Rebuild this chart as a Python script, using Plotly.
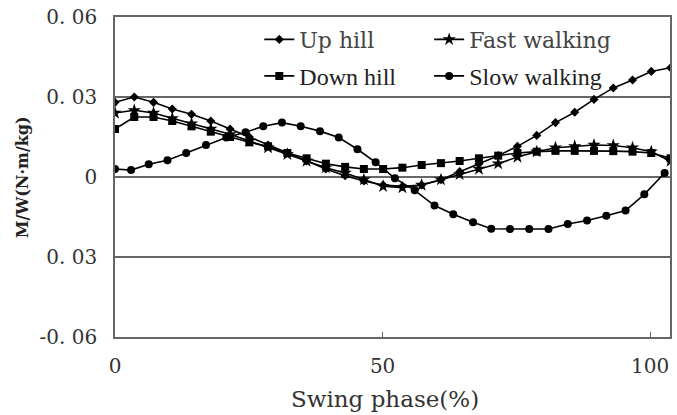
import plotly.graph_objects as go

# Swing phase (%) positions for each series
x_up = [0, 3.6, 7.2, 10.7, 14.3, 17.9, 21.5, 25.1, 28.6, 32.2, 35.8, 39.4, 43.0, 46.5, 50.1,
        53.7, 57.3, 60.9, 64.4, 68.0, 71.6, 75.2, 78.8, 82.3, 85.9, 89.5, 93.1, 96.7, 100.2, 103.8]
x_fast = x_up
x_down = x_up
x_slow = [0, 3, 6.3, 9.8, 13.3, 17, 20.8, 24.4, 27.7, 31.2, 34.7, 38.3, 41.8, 45.3, 48.7,
          52.3, 56, 59.7, 63.2, 66.9, 70.3, 73.8, 77.4, 81, 84.6, 88.2, 91.8, 95.4, 98.9, 102.7]

up_hill = [0.028, 0.030, 0.028, 0.0255, 0.0235, 0.021, 0.018, 0.015, 0.012, 0.009, 0.006, 0.003,
           0.0005, -0.0015, -0.003, -0.0035, -0.003, -0.001, 0.002, 0.005, 0.008, 0.0115, 0.0156,
           0.0204, 0.0243, 0.0291, 0.0334, 0.0364, 0.0396, 0.041]
fast_walking = [0.024, 0.025, 0.024, 0.022, 0.020, 0.018, 0.016, 0.0135, 0.011, 0.0085, 0.006,
                0.0035, 0.0015, -0.001, -0.0035, -0.004, -0.003, -0.001, 0.001, 0.003, 0.005,
                0.0075, 0.0095, 0.011, 0.0115, 0.012, 0.0118, 0.011, 0.0095, 0.006]
down_hill = [0.018, 0.0225, 0.0225, 0.021, 0.019, 0.017, 0.015, 0.013, 0.0115, 0.009, 0.007, 0.005,
             0.0038, 0.003, 0.003, 0.0035, 0.0045, 0.0052, 0.006, 0.007, 0.008, 0.009, 0.0095,
             0.0098, 0.0098, 0.0098, 0.0097, 0.0095, 0.009, 0.007]
slow_walking = [0.003, 0.0026, 0.0048, 0.0063, 0.009, 0.012, 0.0148, 0.0168, 0.019, 0.0204, 0.019,
                0.0172, 0.0148, 0.0104, 0.0055, -0.0005, -0.005, -0.0107, -0.014, -0.017, -0.0194,
                -0.0195, -0.0195, -0.0195, -0.0176, -0.0163, -0.0145, -0.0126, -0.0065, 0.0015]

y_tickvals = [0.06, 0.03, 0, -0.03, -0.06]
y_ticktext = ["0. 06", "0. 03", "0", "0. 03", "-0. 06"]
x_tickvals = [0, 50, 100]
x_ticktext = ["0", "50", "100"]

fig = go.Figure()
line = dict(color="black", width=1.6)
fig.add_trace(go.Scatter(x=x_up, y=up_hill, name="Up hill", mode="lines+markers", line=line,
                         marker=dict(symbol="diamond", size=7, color="black"), legend="legend"))
fig.add_trace(go.Scatter(x=x_fast, y=fast_walking, name="Fast walking", mode="lines+markers", line=line,
                         marker=dict(symbol="star", size=10, color="black"), legend="legend2"))
fig.add_trace(go.Scatter(x=x_down, y=down_hill, name="Down hill", mode="lines+markers", line=line,
                         marker=dict(symbol="square", size=8, color="black"), legend="legend3"))
fig.add_trace(go.Scatter(x=x_slow, y=slow_walking, name="Slow walking", mode="lines+markers", line=line,
                         marker=dict(symbol="circle", size=8, color="black"), legend="legend4"))

row1_font = dict(family="DejaVu Serif", size=22, color="#444")
row2_font = dict(family="Liberation Serif", size=24, color="#222")
col1_x, col2_x = 0.26, 0.566
row1_y, row2_y = 0.995, 0.885

grid_color = "#666666"
fig.update_layout(
    width=677, height=415,
    margin=dict(l=115, r=5, t=16, b=78),
    paper_bgcolor="white", plot_bgcolor="white",
    showlegend=True,
    legend=dict(x=col1_x, y=row1_y, xanchor="left", yanchor="top",
                bgcolor="rgba(0,0,0,0)", font=row1_font),
    legend2=dict(x=col2_x, y=row1_y, xanchor="left", yanchor="top",
                 bgcolor="rgba(0,0,0,0)", font=row1_font),
    legend3=dict(x=col1_x, y=row2_y, xanchor="left", yanchor="top",
                 bgcolor="rgba(0,0,0,0)", font=row2_font),
    legend4=dict(x=col2_x, y=row2_y, xanchor="left", yanchor="top",
                 bgcolor="rgba(0,0,0,0)", font=row2_font),
    xaxis=dict(range=[0, 103.7], tickvals=x_tickvals, ticktext=x_ticktext,
               showgrid=False, zeroline=False, showline=True, linecolor=grid_color, linewidth=1.5,
               mirror=True, ticks="inside", ticklen=5, tickcolor=grid_color,
               ticklabelstandoff=10,
               tickfont=dict(family="DejaVu Serif", size=20, color="#333")),
    yaxis=dict(range=[-0.06, 0.06], tickvals=y_tickvals, ticktext=y_ticktext,
               showgrid=True, gridcolor=grid_color, gridwidth=1.5, zeroline=False,
               showline=True, linecolor=grid_color, linewidth=1.5, mirror=True, ticks="",
               ticklabelstandoff=12,
               tickfont=dict(family="DejaVu Serif", size=20, color="#333")),
    annotations=[
        dict(text="Swing phase(%)", xref="paper", yref="paper", x=0.486, y=-0.195,
             xanchor="center", yanchor="middle", showarrow=False,
             font=dict(family="DejaVu Serif", size=23, color="#333")),
        dict(text="<b>M/W(N·m/kg)</b>", xref="paper", yref="paper", x=-0.167, y=0.5,
             xanchor="center", yanchor="middle", textangle=-90, showarrow=False,
             font=dict(family="DejaVu Serif", size=16, color="#222")),
    ],
)

fig.write_html("out.html")
